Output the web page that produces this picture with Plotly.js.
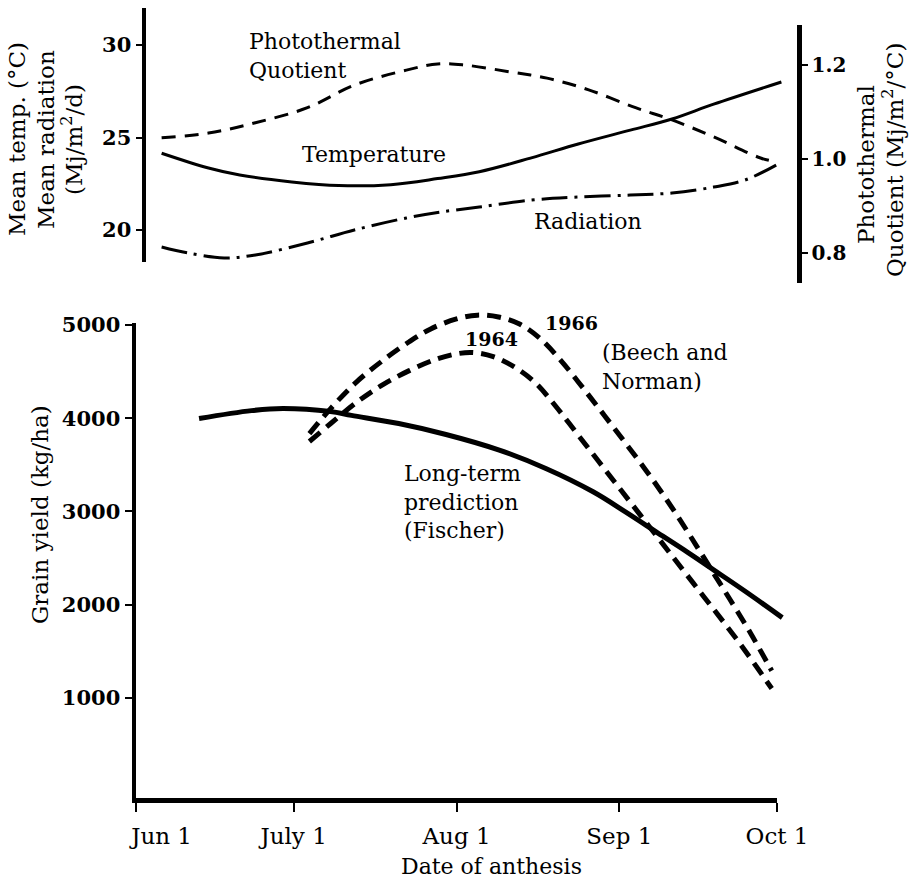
<!DOCTYPE html>
<html>
<head>
<meta charset="utf-8">
<script src="https://cdn.plot.ly/plotly-3.0.1.min.js"></script>
<style>html,body{margin:0;padding:0;background:#fff;}#chart{width:911px;height:881px;}</style>
</head>
<body>
<div id="chart"></div>
<script>
// ---- Top panel data ----
const tempDates = ['2001-06-04','2001-06-13','2001-06-19','2001-06-29','2001-07-08','2001-07-18','2001-07-27','2001-08-04','2001-08-14','2001-08-23','2001-09-02','2001-09-10','2001-09-18','2001-10-01'];
const tempValues = [24.15,23.35,22.97,22.6,22.4,22.45,22.78,23.15,23.9,24.65,25.4,26.0,26.8,28.0];

const radDates = ['2001-06-04','2001-06-09','2001-06-16','2001-06-22','2001-07-02','2001-07-11','2001-07-21','2001-07-27','2001-08-04','2001-08-14','2001-08-23','2001-09-02','2001-09-10','2001-09-18','2001-09-24','2001-09-30'];
const radValues = [19.08,18.76,18.49,18.65,19.30,20.0,20.65,20.95,21.24,21.62,21.78,21.89,22.0,22.32,22.70,23.51];

const pqDates = ['2001-06-04','2001-06-13','2001-06-22','2001-07-02','2001-07-11','2001-07-21','2001-07-27','2001-08-01','2001-08-10','2001-08-17','2001-08-25','2001-09-03','2001-09-10','2001-09-18','2001-09-27','2001-09-30'];
const pqValues = [1.045,1.055,1.077,1.109,1.157,1.189,1.202,1.200,1.185,1.172,1.147,1.109,1.083,1.047,1.002,0.994];

// ---- Bottom panel data ----
const fischerDates = ['2001-06-13','2001-06-23','2001-06-29','2001-07-08','2001-07-12','2001-07-21','2001-07-30','2001-08-09','2001-08-18','2001-08-27','2001-09-02','2001-09-08','2001-09-14','2001-09-19','2001-09-25','2001-10-02'];
const fischerValues = [3996,4081,4103,4071,4030,3942,3825,3660,3460,3210,3000,2780,2560,2370,2140,1860];

const y1964Dates = ['2001-07-04','2001-07-08','2001-07-13','2001-07-18','2001-07-23','2001-07-28','2001-08-01','2001-08-04','2001-08-08','2001-08-12','2001-08-16','2001-08-20','2001-08-24','2001-08-28','2001-09-01','2001-09-05','2001-09-09','2001-09-13','2001-09-17','2001-09-21','2001-09-25','2001-09-29','2001-09-30'];
const y1964Values = [3750,3940,4170,4360,4510,4630,4690,4705,4660,4550,4380,4120,3830,3540,3250,2960,2670,2380,2090,1800,1500,1180,1100];

const y1966Dates = ['2001-07-04','2001-07-08','2001-07-13','2001-07-18','2001-07-23','2001-07-27','2001-08-01','2001-08-05','2001-08-09','2001-08-13','2001-08-17','2001-08-21','2001-08-25','2001-08-29','2001-09-02','2001-09-06','2001-09-10','2001-09-14','2001-09-18','2001-09-22','2001-09-26','2001-09-29','2001-09-30'];
const y1966Values = [3835,4100,4390,4620,4820,4955,5065,5105,5085,5010,4850,4610,4330,4040,3745,3445,3125,2780,2420,2060,1690,1390,1290];

// ---- Ticks ----
const dateTickVals = ['2001-06-01','2001-07-01','2001-08-01','2001-09-01','2001-10-01'];
const dateTickText = ['\u00a0\u00a0\u00a0\u00a0\u00a0\u00a0\u00a0Jun 1','July 1','Aug 1','Sep 1','Oct 1'];
const yieldTicks = [1000,2000,3000,4000,5000];
const tempTicks = [20,25,30];
const pqTicks = [0.8,1.0,1.2];
const pqTickText = ['0.8','1.0','1.2'];

// ---- Layout helpers (pixel -> paper) ----
const W = 911, H = 881;
const fx = p => p / W;
const fy = p => 1 - p / H;
const FONT = 'DejaVu Serif';

// bottom panel geometry: visible axes, plus a hidden, larger overlay so curves are not clipped
const xL = 136, xR = 777, yB = 798, yT = 323;
const yMin = -75, yMax = 5021;
const xStart = '2001-06-01', xEnd = '2001-10-01';
const pxPerDay = (xR - xL) / 122;
const pxPerUnit = (yB - yT) / (yMax - yMin);
const xR4 = 810, yT4 = 290;
const endMs = Date.UTC(2001, 9, 1) + (xR4 - xR) / pxPerDay * 86400000;
const x4End = new Date(endMs).toISOString().replace('T', ' ').slice(0, 19);
const y4Max = yMax + (yT - yT4) / pxPerUnit;

const traces = [
  // empty placeholder so the visible bottom axes are drawn
  {x: [xStart], y: [null], xaxis:'x', yaxis:'y', mode:'lines', hoverinfo:'skip', line:{color:'black', width:0}},
  {x: tempDates, y: tempValues, xaxis:'x2', yaxis:'y2', mode:'lines', name:'Temperature',
   line:{color:'black', width:3, shape:'spline', smoothing:1}},
  {x: radDates, y: radValues, xaxis:'x2', yaxis:'y2', mode:'lines', name:'Radiation',
   line:{color:'black', width:3, dash:'26px,7px,3px,7px', shape:'spline', smoothing:1}},
  {x: pqDates, y: pqValues, xaxis:'x3', yaxis:'y3', mode:'lines', name:'Photothermal Quotient',
   line:{color:'black', width:3, dash:'14px,9px', shape:'spline', smoothing:1}},
  {x: fischerDates, y: fischerValues, xaxis:'x4', yaxis:'y4', mode:'lines', name:'Long-term prediction (Fischer)',
   line:{color:'black', width:5, shape:'spline', smoothing:1}},
  {x: y1964Dates, y: y1964Values, xaxis:'x4', yaxis:'y4', mode:'lines', name:'1964',
   line:{color:'black', width:5, dash:'14px,8px', shape:'spline', smoothing:1}},
  {x: y1966Dates, y: y1966Values, xaxis:'x4', yaxis:'y4', mode:'lines', name:'1966',
   line:{color:'black', width:5, dash:'14px,8px', shape:'spline', smoothing:1}}
];

const axCommon = {showgrid:false, zeroline:false, showline:true, linecolor:'black', ticks:'outside', tickcolor:'black', tickwidth:2};

const ann = (text, x, y, opts={}) => Object.assign({
  text, x: fx(x), y: fy(y), xref:'paper', yref:'paper', showarrow:false,
  xanchor:'center', yanchor:'middle', font:{family:FONT, size:22, color:'black'}
}, opts);

const annotations = [
  ann('Photothermal<br>Quotient', 247, 56, {xanchor:'left', align:'left'}),
  ann('Temperature', 374, 155),
  ann('Radiation', 588, 221),
  ann('1966', 571, 323, {font:{family:FONT, size:19, color:'black', weight:'bold'}}),
  ann('1964', 491, 339, {font:{family:FONT, size:19, color:'black', weight:'bold'}}),
  ann('(Beech and<br>Norman)', 600, 367, {xanchor:'left', align:'left'}),
  ann('Long-term<br>prediction<br>(Fischer)', 402, 502, {xanchor:'left', align:'left'}),
  ann('Mean temp. (°C)', 17, 139, {textangle:-90, font:{family:FONT, size:23, color:'black'}}),
  ann('Mean radiation', 46, 140, {textangle:-90, font:{family:FONT, size:23, color:'black'}}),
  ann('(Mj/m<sup>2</sup>/d)', 72, 140, {textangle:-90, font:{family:FONT, size:23, color:'black'}}),
  ann('Photothermal', 866, 165, {textangle:-90, font:{family:FONT, size:23, color:'black'}}),
  ann('Quotient (Mj/m<sup>2</sup>/°C)', 893, 160, {textangle:-90, font:{family:FONT, size:23, color:'black'}}),
  ann('Grain yield (kg/ha)', 40, 515, {textangle:-90, font:{family:FONT, size:23, color:'black'}}),
  ann('Date of anthesis', 491, 866, {font:{family:FONT, size:22, color:'black'}})
];

const layout = {
  width: W, height: H,
  margin:{l:0, r:0, t:0, b:0},
  showlegend:false,
  paper_bgcolor:'white', plot_bgcolor:'rgba(0,0,0,0)',
  font:{family:FONT, color:'black', size:22},
  xaxis: Object.assign({}, axCommon, {
    domain:[fx(xL), fx(xR)], range:[xStart, xEnd], type:'date', anchor:'y',
    tickvals: dateTickVals, ticktext: dateTickText, linewidth:5, ticklen:9,
    tickfont:{family:FONT, size:23, color:'black'}, ticklabelstandoff:4
  }),
  yaxis: Object.assign({}, axCommon, {
    domain:[fy(yB), fy(yT)], range:[yMin, yMax], anchor:'x',
    tickvals: yieldTicks, linewidth:4.5, ticklen:7,
    tickfont:{family:FONT, size:21, color:'black', weight:'bold'}
  }),
  xaxis4:{domain:[fx(xL), fx(xR4)], range:[xStart, x4End], type:'date', visible:false, anchor:'y4'},
  yaxis4:{domain:[fy(yB), fy(yT4)], range:[yMin, y4Max], visible:false, anchor:'x4'},
  xaxis2:{domain:[fx(146), fx(797)], range:['2001-06-01','2001-10-04'], type:'date', visible:false, anchor:'y2'},
  yaxis2: Object.assign({}, axCommon, {
    domain:[fy(262), fy(8)], range:[18.27, 32.0], anchor:'x2', side:'left',
    tickvals: tempTicks, linewidth:4.5, ticklen:6,
    tickfont:{family:FONT, size:21, color:'black', weight:'bold'}
  }),
  xaxis3:{domain:[fx(146), fx(797)], range:['2001-06-01','2001-10-04'], type:'date', visible:false, anchor:'y3'},
  yaxis3: Object.assign({}, axCommon, {
    domain:[fy(283), fy(25)], range:[0.736, 1.285], anchor:'x3', side:'right',
    tickvals: pqTicks, ticktext: pqTickText, linewidth:4.5, ticklen:6,
    tickfont:{family:FONT, size:20, color:'black', weight:'bold'}
  }),
  annotations
};

Plotly.newPlot('chart', traces, layout, {displayModeBar:false, staticPlot:true});
</script>
</body>
</html>
